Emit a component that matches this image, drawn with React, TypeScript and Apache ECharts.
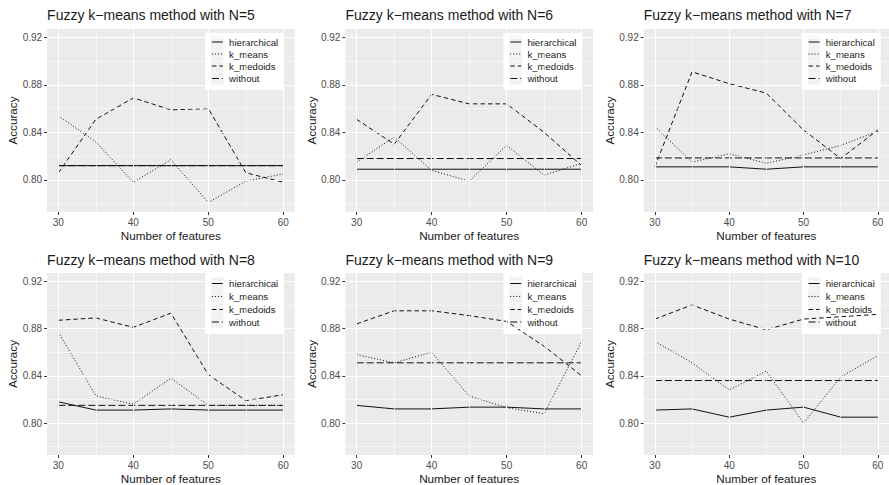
import React, { useEffect, useRef } from "react";
import * as echarts from "echarts";

const features = [30, 35, 40, 45, 50, 55, 60];
const methods = ["hierarchical", "k_means", "k_medoids", "without"];
const panelN = [5, 6, 7, 8, 9, 10];

const n5_hierarchical = [0.812, 0.812, 0.812, 0.812, 0.812, 0.812, 0.812];
const n5_kmeans = [0.854, 0.832, 0.798, 0.817, 0.781, 0.799, 0.805];
const n5_kmedoids = [0.806, 0.851, 0.869, 0.859, 0.86, 0.806, 0.798];
const n5_without = [0.812, 0.812, 0.812, 0.812, 0.812, 0.812, 0.812];

const n6_hierarchical = [0.809, 0.809, 0.809, 0.809, 0.809, 0.809, 0.809];
const n6_kmeans = [0.815, 0.836, 0.808, 0.799, 0.829, 0.804, 0.814];
const n6_kmedoids = [0.851, 0.83, 0.872, 0.864, 0.864, 0.84, 0.812];
const n6_without = [0.818, 0.818, 0.818, 0.818, 0.818, 0.818, 0.818];

const n7_hierarchical = [0.811, 0.811, 0.811, 0.809, 0.811, 0.811, 0.811];
const n7_kmeans = [0.845, 0.815, 0.822, 0.814, 0.821, 0.829, 0.841];
const n7_kmedoids = [0.811, 0.891, 0.881, 0.873, 0.842, 0.818, 0.842];
const n7_without = [0.8185, 0.8185, 0.8185, 0.8185, 0.8185, 0.8185, 0.8185];

const n8_hierarchical = [0.818, 0.811, 0.811, 0.812, 0.811, 0.811, 0.811];
const n8_kmeans = [0.877, 0.823, 0.816, 0.838, 0.815, 0.815, 0.815];
const n8_kmedoids = [0.887, 0.889, 0.881, 0.893, 0.841, 0.819, 0.824];
const n8_without = [0.815, 0.815, 0.815, 0.815, 0.815, 0.815, 0.815];

const n9_hierarchical = [0.815, 0.812, 0.812, 0.8135, 0.8135, 0.812, 0.812];
const n9_kmeans = [0.858, 0.851, 0.86, 0.823, 0.813, 0.808, 0.869];
const n9_kmedoids = [0.884, 0.895, 0.895, 0.891, 0.886, 0.865, 0.84];
const n9_without = [0.851, 0.851, 0.851, 0.851, 0.851, 0.851, 0.851];

const n10_hierarchical = [0.811, 0.812, 0.805, 0.811, 0.8135, 0.805, 0.805];
const n10_kmeans = [0.869, 0.851, 0.828, 0.844, 0.8, 0.839, 0.857];
const n10_kmedoids = [0.888, 0.9, 0.888, 0.879, 0.888, 0.89, 0.892];
const n10_without = [0.836, 0.836, 0.836, 0.836, 0.836, 0.836, 0.836];

const panelData = [
  [n5_hierarchical, n5_kmeans, n5_kmedoids, n5_without],
  [n6_hierarchical, n6_kmeans, n6_kmedoids, n6_without],
  [n7_hierarchical, n7_kmeans, n7_kmedoids, n7_without],
  [n8_hierarchical, n8_kmeans, n8_kmedoids, n8_without],
  [n9_hierarchical, n9_kmeans, n9_kmedoids, n9_without],
  [n10_hierarchical, n10_kmeans, n10_kmedoids, n10_without],
];

const yMajorTicks = [0.8, 0.84, 0.88, 0.92];
const yMinorTicks = [0.78, 0.82, 0.86, 0.9];
const xMajorTicks = [30, 40, 50, 60];
const xMinorTicks = [35, 45, 55];

const FONT = "'Liberation Sans', Arial, Helvetica, sans-serif";
const dashes: (number[] | "solid")[] = ["solid", [1, 2], [4.5, 3], [7, 3]];

const colLeft = [47.1, 345.4, 643.75];
const plotW = 247.5;
const rowTop = [29, 273];
const rowH = [183, 182.3];
const legendTop = [33, 272];
const legendItemY = [
  [42, 54, 66, 78.5],
  [283.5, 296.5, 309.5, 322],
];
const legendH = [57, 62];

export default function App() {
  const ref = useRef<HTMLDivElement>(null);
  useEffect(() => {
    if (!ref.current) return;
    const chart = echarts.init(ref.current, undefined, { renderer: "svg" });
    const grid: any[] = [];
    const xAxis: any[] = [];
    const yAxis: any[] = [];
    const title: any[] = [];
    const series: any[] = [];
    const graphic: any[] = [];

    panelN.forEach((n, i) => {
      const c = i % 3;
      const r = Math.floor(i / 3);
      const left = colLeft[c];
      const top = rowTop[r];
      grid.push({
        left,
        top,
        width: plotW,
        height: rowH[r],
        show: true,
        backgroundColor: "#EBEBEB",
        borderWidth: 0,
        containLabel: false,
      });
      xAxis.push({
        type: "value",
        gridIndex: i,
        min: 28.5,
        max: 61.5,
        name: "Number of features",
        nameLocation: "middle",
        nameGap: 17,
        nameTextStyle: { fontSize: 11.7, color: "#1a1a1a", fontFamily: FONT },
        axisLine: { show: false },
        axisTick: {
          show: true,
          length: 3,
          customValues: xMajorTicks,
          lineStyle: { color: "#333", width: 1 },
        },
        axisLabel: {
          customValues: xMajorTicks,
          fontSize: 10,
          color: "#4D4D4D",
          fontFamily: FONT,
          margin: 5,
        },
        splitLine: { show: false },
      });
      yAxis.push({
        type: "value",
        gridIndex: i,
        min: 0.773,
        max: 0.927,
        name: "Accuracy",
        nameLocation: "middle",
        nameGap: 28,
        nameTextStyle: { fontSize: 11.7, color: "#1a1a1a", fontFamily: FONT },
        axisLine: { show: false },
        axisTick: {
          show: true,
          length: 3,
          customValues: yMajorTicks,
          lineStyle: { color: "#333", width: 1 },
        },
        axisLabel: {
          customValues: yMajorTicks,
          formatter: (v: number) => v.toFixed(2),
          fontSize: 10,
          color: "#4D4D4D",
          fontFamily: FONT,
          margin: 5,
        },
        splitLine: { show: false },
      });
      title.push({
        text: `Fuzzy k\u2212means method with N=${n}`,
        left: left,
        top: r === 0 ? 8 : 253,
        padding: 0,
        textStyle: { fontSize: 14, fontWeight: "normal", color: "#1a1a1a", fontFamily: FONT },
      });
      series.push({
        type: "line",
        xAxisIndex: i,
        yAxisIndex: i,
        data: [[30, 0.8]],
        symbol: "none",
        lineStyle: { opacity: 0 },
        silent: true,
        z: 1,
        markLine: {
          silent: true,
          symbol: ["none", "none"],
          label: { show: false },
          emphasis: { disabled: true },
          data: [
            ...yMinorTicks.map((v) => ({ yAxis: v, lineStyle: { color: "#FFFFFF", width: 0.55, type: "solid" } })),
            ...xMinorTicks.map((v) => ({ xAxis: v, lineStyle: { color: "#FFFFFF", width: 0.55, type: "solid" } })),
            ...yMajorTicks.map((v) => ({ yAxis: v, lineStyle: { color: "#FFFFFF", width: 1.1, type: "solid" } })),
            ...xMajorTicks.map((v) => ({ xAxis: v, lineStyle: { color: "#FFFFFF", width: 1.1, type: "solid" } })),
          ],
        },
      });
      methods.forEach((m, k) => {
        series.push({
          type: "line",
          name: m,
          xAxisIndex: i,
          yAxisIndex: i,
          data: features.map((x, j) => [x, panelData[i][k][j]]),
          symbol: "none",
          showSymbol: false,
          silent: true,
          z: 3,
          lineStyle: { color: "#111", width: 1, type: dashes[k] },
        });
      });
      const right = left + plotW - 10.5;
      const bx = right - 79;
      const by = legendTop[r];
      const children: any[] = [
        { type: "rect", shape: { x: bx, y: by, width: 79, height: legendH[r] }, style: { fill: "#FFFFFF" } },
      ];
      methods.forEach((m, k) => {
        const yy = legendItemY[r][k];
        children.push({
          type: "rect",
          shape: { x: bx + 6, y: yy - 6.2, width: 12.4, height: 12.4 },
          style: { fill: "#F2F2F2" },
        });
        children.push({
          type: "line",
          shape: { x1: bx + 6.8, y1: yy, x2: bx + 17.8, y2: yy },
          style: {
            stroke: "#111",
            lineWidth: 1,
            lineDash: dashes[k] === "solid" ? null : (dashes[k] as number[]),
          },
        });
        children.push({
          type: "text",
          style: {
            text: m,
            x: bx + 24,
            y: yy,
            fill: "#1a1a1a",
            font: `9.6px ${FONT}`,
            textAlign: "left",
            textVerticalAlign: "middle",
          },
        });
      });
      graphic.push({ type: "group", z: 100, silent: true, children });
    });

    chart.setOption({
      animation: false,
      backgroundColor: "#FFFFFF",
      textStyle: { fontFamily: FONT },
      grid,
      xAxis,
      yAxis,
      title,
      series,
      graphic,
    });
    return () => chart.dispose();
  }, []);
  return (
    <div
      ref={ref}
      style={{ position: "absolute", left: 0, top: 0, width: 889, height: 485 }}
    />
  );
}
